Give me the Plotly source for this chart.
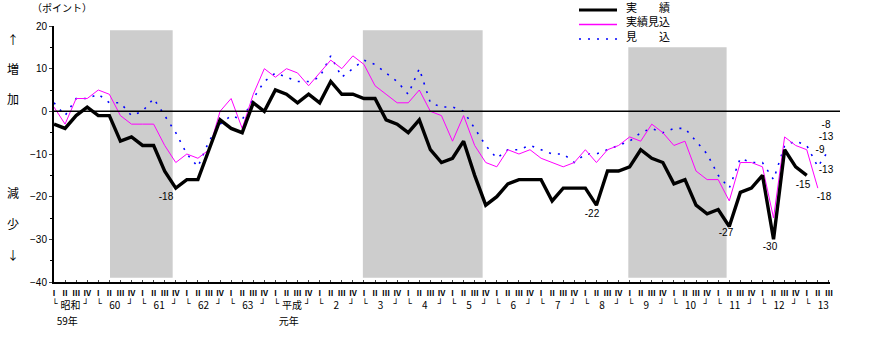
import plotly.graph_objects as go

# Quarterly BSI (points), 昭和59年Ⅰ期 .. 平成13年Ⅲ期
quarters = ["Ⅰ", "Ⅱ", "Ⅲ", "Ⅳ"]
years = ["昭和", "60", "61", "62", "63", "平成", "2", "3", "4", "5",
         "6", "7", "8", "9", "10", "11", "12", "13"]
year_notes = {"昭和": "59年", "平成": "元年"}

# 実績
actual = [-3, -4, -1, 1, -1, -1, -7, -6, -8, -8, -14, -18, -16, -16, -9, -2,
          -4, -5, 2, 0, 5, 4, 2, 4, 2, 7, 4, 4, 3, 3, -2, -3,
          -5, -2, -9, -12, -11, -7, -15, -22, -20, -17, -16, -16, -16, -21, -18, -18,
          -18, -22, -14, -14, -13, -9, -11, -12, -17, -16, -22, -24, -23, -27, -19, -18,
          -15, -30, -9, -13, -15]
# 実績見込
estimate = [1, -3, 3, 3, 5, 4, -1, -3, -3, -3, -8, -12, -10, -11, -9, 0,
            3, -4, 4, 10, 8, 10, 9, 6, 9, 12, 10, 13, 11, 6, 4, 2,
            2, 5, 0, -1, -7, -1, -8, -12, -13, -9, -10, -9, -11, -12, -13, -12,
            -9, -12, -9, -8, -6, -7, -3, -5, -8, -7, -14, -16, -16, -21, -12, -12,
            -13, -25, -6, -8, -9, -18]
# 見込
forecast = [2, -1, 3, 3, 4, 2, 2, -1, 0, 3, -1, -5, -10, -13, -7, -3,
            -1, -2, 3, 7, 9, 8, 7, 7, 8, 13, 8, 10, 12, 11, 9, 7,
            4, 10, 2, 1, 1, 0, -4, -8, -11, -9, -9, -8, -9, -10, -10, -12,
            -10, -10, -9, -8, -7, -5, -4, -5, -4, -4, -7, -10, -15, -18, -11, -12,
            -12, -16, -8, -7, -8, -13, -9]

# 景気後退期 (quarter position start, end, top of band)
recessions = [(5.06, 10.72, 19), (27.9, 38.72, 19), (51.88, 60.76, 15)]

JP = "Noto Sans CJK JP"
NUM = "Liberation Sans"
FW, FH = 870, 338
PL, PR, PT, PB = 54, 830, 26, 282          # plot box in canvas pixels
X_MAX = 70.1
Q_W = (PR - PL) / X_MAX


def qx(i):
    """canvas x of quarter position i"""
    return PL + Q_W * i


fig = go.Figure()

for x0, x1, top in recessions:
    fig.add_shape(type="rect", xref="x", yref="y", x0=x0, x1=x1, y0=-39, y1=top,
                  fillcolor="#cdcdcd", line_width=0, layer="below")

# zero line, running a little past the last quarter
fig.add_shape(type="line", xref="x2", yref="y", x0=PL, x1=840, y0=0, y1=0,
              line=dict(color="black", width=1.5))

n_q = len(forecast)
fig.add_trace(go.Scatter(x=list(range(n_q)), y=forecast, mode="lines",
                         line=dict(color="#0000ff", width=1.6, dash="2px,7px"),
                         showlegend=False, hoverinfo="skip"))
fig.add_trace(go.Scatter(x=list(range(len(estimate))), y=estimate, mode="lines",
                         line=dict(color="#ff00ff", width=1),
                         showlegend=False, hoverinfo="skip"))
fig.add_trace(go.Scatter(x=list(range(len(actual))), y=actual, mode="lines",
                         line=dict(color="black", width=3.4),
                         showlegend=False, hoverinfo="skip"))


def canvas_text(xs, ys, texts, size, family=JP, weight="normal"):
    fig.add_trace(go.Scatter(x=xs, y=ys, text=texts, mode="text", textposition="middle center",
                             textfont=dict(family=family, size=size, color="black", weight=weight),
                             xaxis="x2", yaxis="y2", cliponaxis=False,
                             showlegend=False, hoverinfo="skip"))


# value labels
labels = [(actual[11], 166, 197), (actual[49], 592, 214), (actual[61], 726, 233),
          (actual[65], 770, 247), (actual[68], 803, 185), (estimate[69], 824, 197),
          (forecast[68], 826, 125), (forecast[69], 826, 137), (forecast[70], 820, 150),
          (actual[67], 826, 170)]
canvas_text([p for _, p, _ in labels], [q for _, _, q in labels],
            [str(v) for v, _, _ in labels], 10, family=NUM)

# quarter numerals, year brackets and year names under the axis
canvas_text([qx(i) for i in range(n_q)], [294] * n_q, [quarters[i % 4] for i in range(n_q)],
            8, weight="bold")
bx, bt = [], []
for k in range(len(years)):
    first = 4 * k
    bx.append(qx(first) + 1)
    bt.append("└")
    if first + 3 < n_q:
        bx.append(qx(first + 3) - 1)
        bt.append("┘")
canvas_text(bx, [305] * len(bx), bt, 9, family="DejaVu Sans")
canvas_text([qx(4 * k + 1.5) for k in range(len(years))], [306] * len(years), years, 10)
canvas_text([qx(4 * years.index(y) + 1.2) for y in year_notes], [322] * len(year_notes),
            list(year_notes.values()), 10)

# left side captions
canvas_text([62], [9], ["（ポイント）"], 10)
side = [("↑", 42), ("増", 71), ("加", 101), ("減", 195), ("少", 226), ("↓", 257)]
canvas_text([13] * len(side), [yy for _, yy in side], [t for t, _ in side], 12)

# legend
legend_rows = [("実　　績", dict(color="black", width=3)),
               ("実績見込", dict(color="#ff00ff", width=1.5)),
               ("見　　込", dict(color="#0000ff", width=1.6, dash="2px,7px"))]
for r, (name, ln) in enumerate(legend_rows):
    yy = 10 + 14.5 * r
    fig.add_shape(type="line", xref="x2", yref="y2", x0=579, x1=617, y0=yy, y1=yy, line=ln)
canvas_text([648] * 3, [9 + 14.5 * r for r in range(3)], [n for n, _ in legend_rows], 11)

fig.update_layout(
    width=FW, height=FH,
    margin=dict(l=0, r=0, t=0, b=0, pad=0, autoexpand=False),
    paper_bgcolor="white", plot_bgcolor="rgba(0,0,0,0)",
    xaxis=dict(domain=[PL / FW, PR / FW], range=[0, X_MAX], showgrid=False, zeroline=False,
               showline=True, linecolor="black", linewidth=1.5, ticks="inside", ticklen=2,
               tickvals=list(range(n_q)), showticklabels=False, automargin=False,
               fixedrange=True, anchor="y"),
    yaxis=dict(domain=[1 - PB / FH, 1 - PT / FH], range=[-40, 20], showgrid=False,
               zeroline=False, showline=True, linecolor="black", linewidth=2,
               ticks="outside", ticklen=3, dtick=10, automargin=False,
               tickfont=dict(family=NUM, size=10, color="black"),
               minor=dict(dtick=5, ticks="outside", ticklen=2, tickcolor="black"),
               fixedrange=True, anchor="x"),
    xaxis2=dict(domain=[0, 1], range=[0, FW], visible=False, fixedrange=True,
                automargin=False, anchor="y2"),
    yaxis2=dict(domain=[0, 1], range=[FH, 0], visible=False, fixedrange=True,
                automargin=False, anchor="x2"),
)

fig.write_html("out.html")
